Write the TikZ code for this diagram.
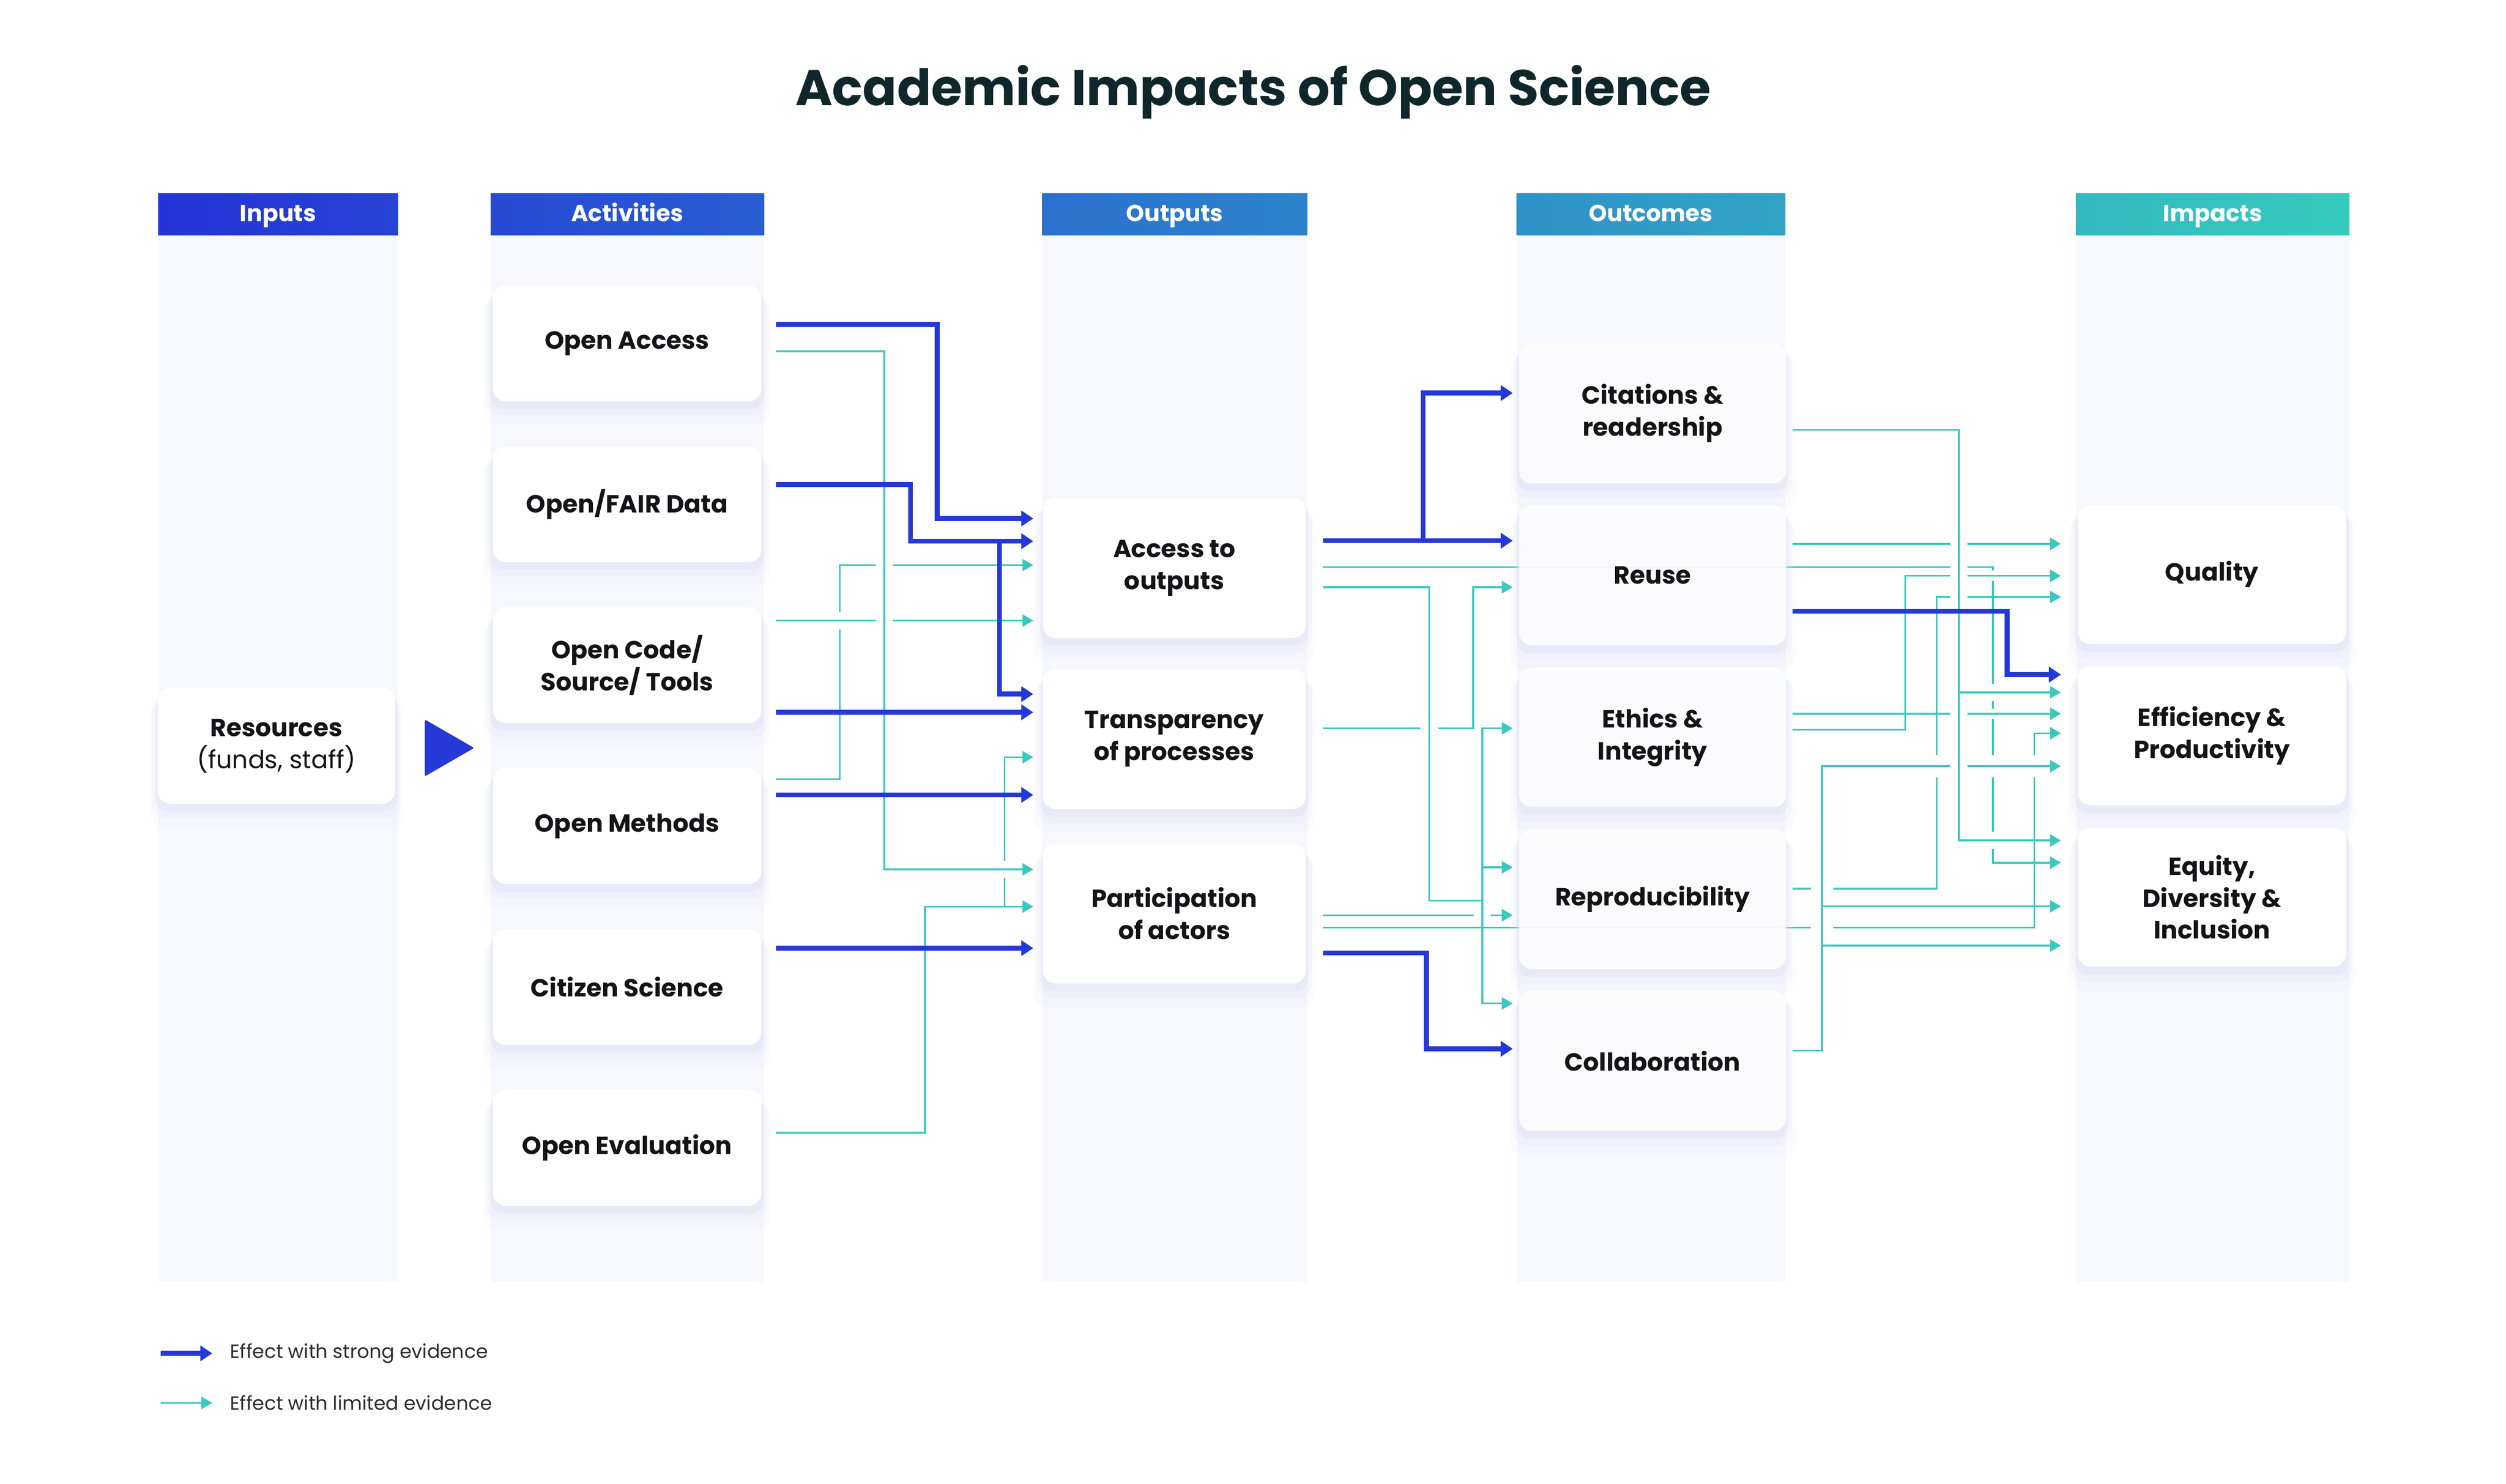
\documentclass[tikz,border=0pt]{standalone}
\usepackage{fontspec}
\setmainfont{Poppins}
\usetikzlibrary{arrows.meta, shadows}
\definecolor{strongblue}{RGB}{37,56,216}
\definecolor{weakteal}{RGB}{58,200,190}
\definecolor{colbg}{RGB}{247,248,253}
\definecolor{glow}{RGB}{218,222,244}
\definecolor{ink}{RGB}{20,20,24}
\definecolor{titleink}{RGB}{15,38,42}
\definecolor{legink}{RGB}{45,45,50}
\definecolor{hdrL}{RGB}{36,51,217}
\definecolor{hdrR}{RGB}{54,203,190}
\tikzstyle{box}=[rectangle, rounded corners=8pt, fill=white, align=center, text=ink,
  font=\fontsize{15.5}{20}\selectfont\bfseries,
  general shadow={fill=glow, opacity=.10, shadow yshift=-11pt, shadow scale=1.07},
  general shadow={fill=glow, opacity=.18, shadow yshift=-7pt, shadow scale=1.045},
  general shadow={fill=glow, opacity=.30, shadow yshift=-4pt, shadow scale=1.02}]
\tikzstyle{inbox}=[box, minimum width=148.6pt, minimum height=72.4pt]
\tikzstyle{actbox}=[box, minimum width=168pt, minimum height=72.5pt, outer xsep=9pt]
\tikzstyle{outbox}=[box, minimum width=164.5pt, minimum height=87.5pt, outer xsep=6pt]
\tikzstyle{ocbox}=[box, minimum width=167pt, minimum height=87.5pt, outer xsep=4pt,
  fill opacity=.85, text opacity=1]
\tikzstyle{impbox}=[box, minimum width=168pt, minimum height=87pt, outer xsep=10.5pt]
\tikzstyle{hdr}=[anchor=base, text=white, font=\fontsize{14.5}{16}\selectfont\bfseries]
\tikzstyle{legtext}=[anchor=west, text=legink, font=\fontsize{12}{14}\selectfont]
\tikzstyle{strong}=[draw=strongblue, line width=3.1pt, -{Triangle[length=7.5pt,width=9.5pt]}]
\tikzstyle{weak}=[draw=weakteal, line width=1.1pt, -{Triangle[length=6.8pt,width=7.6pt]}]
\tikzstyle{weakline}=[draw=weakteal, line width=1.1pt]
\tikzstyle{fromout}=[shorten <=5pt]
\newcommand\cutH[3][5.5]{\fill[white] (#2-#1,#3-1.6) rectangle (#2+#1,#3+1.6);}
\newcommand\cutV[3][5.5]{\fill[white] (#2-1.6,#3-#1) rectangle (#2+1.6,#3+#1);}
\begin{document}
\begin{tikzpicture}[x=1pt,y=-1pt,inner sep=0pt]
  \useasboundingbox (0,0) rectangle (1568,928.5);
  \fill[white] (0,0) rectangle (1568,928.5);
  \node[anchor=base, text=titleink, font=\fontsize{31.5}{36}\selectfont\bfseries] (title) at (784,66) {Academic Impacts of Open Science};
  \foreach \name/\xa/\xb in {Inputs/99/249, Activities/307/478, Outputs/652/818, Outcomes/949/1117, Impacts/1299/1470} {
    \pgfmathsetmacro\ta{(\xa-99)/13.71}
    \pgfmathsetmacro\tb{(\xb-99)/13.71}
    \fill[colbg] (\xa,147) rectangle (\xb,802);
    \shade[left color=hdrR!\ta!hdrL, right color=hdrR!\tb!hdrL] (\xa,121) rectangle (\xb,147);
    \node[hdr] (h\name) at ({(\xa+\xb)/2},138.5) {\name};
  }

  \node[inbox] (res) at (172.9,466.8) {Resources\\{\mdseries (funds, staff)}};
  \fill[strongblue, rounded corners=1pt] (265.8,450.3) -- (296.7,468.1) -- (265.8,485.9) -- cycle;

  \node[actbox] (OA) at (392.4,214.9) {Open Access};
  \node[actbox] (FD) at (392.4,315.6) {Open/FAIR Data};
  \node[actbox] (OC) at (392.4,416.3) {Open Code/\\Source/ Tools};
  \node[actbox] (OM) at (392.4,517.0) {Open Methods};
  \node[actbox] (CS) at (392.4,617.7) {Citizen Science};
  \node[actbox] (OE) at (392.4,718.4) {Open Evaluation};

  \node[outbox] (AO) at (734.75,355.5) {Access to\\outputs};
  \node[outbox] (TP) at (734.75,462.5) {Transparency\\of processes};
  \node[outbox] (PA) at (734.75,571.7) {Participation\\of actors};

  \node[impbox] (QU) at (1384,359.5) {Quality};
  \node[impbox] (EP) at (1384,460.5) {Efficiency \&\\Productivity};
  \node[impbox] (ED) at (1384,561.5) {Equity,\\Diversity \&\\Inclusion};

  \draw[weak, fromout] (AO.east |- 0,355) -| (1246.9,539.9) -- (ED.west |- 0,539.9);
  \draw[weak, fromout] (PA.east |- 0,580.5) -| (1272.9,458.9) -- (EP.west |- 0,458.9);

  \node[ocbox] (CR) at (1034,258.8) {Citations \&\\readership};
  \node[ocbox] (RU) at (1034,360.1) {Reuse};
  \node[ocbox] (EI) at (1034,461.4) {Ethics \&\\Integrity};
  \node[ocbox] (RE) at (1034,562.7) {Reproducibility};
  \node[ocbox] (CO) at (1034,664.0) {Collaboration};

  \draw[weak] (OM.east |- 0,487.6) -| (525.5,353.7) -- (AO.west |- 0,353.7);
  \cutV{525.5}{388.4}
  \draw[weak] (OC.east |- 0,388.4) -- (AO.west |- 0,388.4);
  \coordinate (oej) at (628.5,567.4);
  \draw[weak] (OE.east |- 0,708.9) -| (578.8,567.4) -- (PA.west |- 0,567.4);
  \draw[weak] (oej) |- (TP.west |- 0,473.9);
  \cutH{553.3}{353.7}
  \cutH{553.3}{388.4}
  \cutV{628.5}{544.1}
  \draw[weak] (OA.east |- 0,219.8) -| (553.3,544.1) -- (PA.west |- 0,544.1);

  \draw[weak, fromout] (TP.east |- 0,455.8) -| (921.7,367.5) -- (RU.west |- 0,367.5);
  \draw[weak, fromout] (PA.east |- 0,572.8) -- (RE.west |- 0,572.8);
  \cutH{894.3}{455.8}
  \cutH{927.5}{572.8}
  \coordinate (aoj) at (927.5,563.7);
  \draw[weakline, fromout] (AO.east |- 0,367.5) -| (894.3,563.7) -- (aoj);
  \draw[weak] (aoj) |- (EI.west |- 0,455.8);
  \draw[weak] (aoj) |- (CO.west |- 0,628);
  \draw[weak] (aoj |- 0,542.8) -- (RE.west |- 0,542.8);

  \draw[weak] (RU.east |- 0,340.4) -- (QU.west |- 0,340.4);
  \draw[weak] (RE.east |- 0,556.2) -| (1211.7,373.6) -- (QU.west |- 0,373.6);
  \cutV[3.3]{1246.9}{446.7}
  \draw[weak] (EI.east |- 0,446.7) -- (EP.west |- 0,446.7);
  \cutV[3.3]{1246.9}{360.4}
  \draw[weak] (EI.east |- 0,456.7) -| (1192.1,360.4) -- (QU.west |- 0,360.4);
  \foreach \x in {1211.7,1246.9,1272.9} {\cutV[7]{\x}{479.5}}
  \foreach \y in {556.2,580.4} {\cutH[7]{1140.1}{\y}}
  \draw[weak] (CO.east |- 0,657.5) -| (1140.1,479.5) -- (EP.west |- 0,479.5);
  \foreach \y [count=\k] in {567.2,591.8} {
    \coordinate (coj\k) at (1140.1,\y);
    \draw[weak] (coj\k) -- (ED.west |- coj\k);
  }
  \foreach \y in {340.4,355,360.4,373.6,446.7,479.5} {\cutH{1225.6}{\y}}
  \cutV{1246.9}{433.3}
  \cutV{1246.9}{526}
  \coordinate (crj) at (1225.6,433.3);
  \draw[weak] (CR.east |- 0,269.1) -| (1225.6,526) -- (ED.west |- 0,526);
  \draw[weak] (crj) -- (EP.west |- crj);

  \coordinate (fdj) at (625.4,338.7);
  \coordinate (aoj2) at (890.4,338.4);
  \draw[strong] (OA.east |- 0,203.1) -| (586.5,324.5) -- (AO.west |- 0,324.5);
  \draw[strong] (FD.east |- 0,303.2) -| (569.7,338.7) -- (AO.west |- 0,338.7);
  \draw[strong] (fdj) |- (TP.west |- 0,434.4);
  \draw[strong] (OC.east |- 0,445.8) -- (TP.west |- 0,445.8);
  \draw[strong] (OM.east |- 0,497.5) -- (TP.west |- 0,497.5);
  \draw[strong] (CS.east |- 0,593.4) -- (PA.west |- 0,593.4);
  \draw[strong, fromout] (AO.east |- 0,338.4) -- (RU.west |- 0,338.4);
  \draw[strong] (aoj2) |- (CR.west |- 0,246);
  \draw[strong, fromout] (PA.east |- 0,596.4) -| (892.5,656.4) -- (CO.west |- 0,656.4);
  \draw[strong] (RU.east |- 0,382.6) -| (1255.8,422.2) -- (EP.west |- 0,422.2);

  \node[legtext] (lstrong) at (143.8,847) {Effect with strong evidence};
  \node[legtext] (lweak) at (143.8,878) {Effect with limited evidence};
  \coordinate (ls) at (100.5,847);
  \coordinate (lw) at (100.5,878);
  \draw[strong] (ls) -- ([xshift=-11pt]lstrong.west);
  \draw[weak] (lw) -- ([xshift=-11pt]lweak.west);
\end{tikzpicture}
\end{document}
